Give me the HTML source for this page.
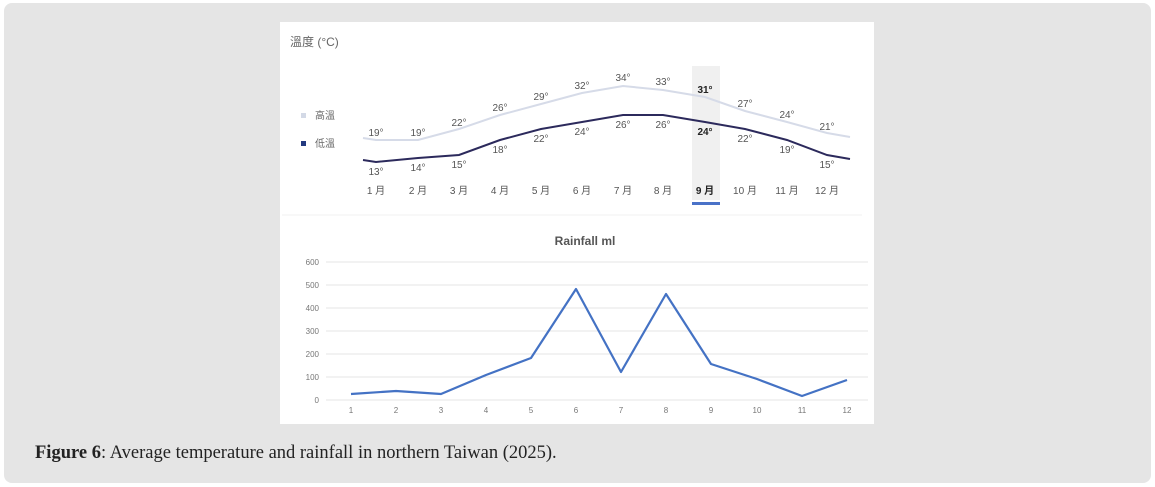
<!DOCTYPE html>
<html><head><meta charset="utf-8"><style>
html,body{margin:0;padding:0;background:#fff;width:1155px;height:487px;overflow:hidden}
.panel{position:absolute;left:4px;top:3px;width:1147px;height:480px;background:#e5e5e5;border-radius:8px}
.img{position:absolute;left:280px;top:22px;width:594px;height:402px;background:#fff}
.cap{position:absolute;left:35px;top:443px;font:18.5px "Liberation Serif",serif;color:#222}
</style></head><body>
<div class="panel"></div>
<div class="img"></div>
<svg width="1155" height="487" style="position:absolute;left:0;top:0" font-family="Liberation Sans, Noto Sans CJK TC, sans-serif">
<text x="290" y="46" font-size="12" fill="#666">溫度 (°C)</text>
<rect x="692" y="66" width="28" height="134" fill="#f0f0f0"/>
<rect x="692" y="202" width="28" height="3" fill="#4a72c8"/>
<line x1="282" y1="215" x2="862" y2="215" stroke="#f0f0f0"/>
<rect x="301" y="113" width="5" height="5" fill="#d3d9e6"/>
<text x="315" y="119" font-size="10" fill="#666">高溫</text>
<rect x="301" y="141" width="5" height="5" fill="#233a80"/>
<text x="315" y="147" font-size="10" fill="#666">低溫</text>
<polyline fill="none" stroke="#d6dbe8" stroke-width="2" points="363,138 376,140 418,140 459,129 500,115 541,104 582,93 623,86 663,90 705,97 745,111 787,122 827,133 850,137"/>
<polyline fill="none" stroke="#2c2a5c" stroke-width="2" points="363,160 376,162 418,158 459,155 500,140 541,129 582,122 623,115 663,115 705,122 745,129 787,140 827,155 850,159"/>
<g font-size="10" fill="#555" text-anchor="middle">
<text x="376" y="136">19°</text><text x="418" y="136">19°</text><text x="459" y="126">22°</text><text x="500" y="111">26°</text><text x="541" y="100">29°</text><text x="582" y="89">32°</text><text x="623" y="81">34°</text><text x="663" y="85">33°</text><text x="705" y="93" font-weight="bold" fill="#222">31°</text><text x="745" y="107">27°</text><text x="787" y="118">24°</text><text x="827" y="130">21°</text>
<text x="376" y="175">13°</text><text x="418" y="171">14°</text><text x="459" y="168">15°</text><text x="500" y="153">18°</text><text x="541" y="142">22°</text><text x="582" y="135">24°</text><text x="623" y="128">26°</text><text x="663" y="128">26°</text><text x="705" y="135" font-weight="bold" fill="#222">24°</text><text x="745" y="142">22°</text><text x="787" y="153">19°</text><text x="827" y="168">15°</text>
<text x="376" y="194">1 月</text><text x="418" y="194">2 月</text><text x="459" y="194">3 月</text><text x="500" y="194">4 月</text><text x="541" y="194">5 月</text><text x="582" y="194">6 月</text><text x="623" y="194">7 月</text><text x="663" y="194">8 月</text><text x="705" y="194" font-weight="bold" fill="#222">9 月</text><text x="745" y="194">10 月</text><text x="787" y="194">11 月</text><text x="827" y="194">12 月</text>
</g>
<text x="585" y="245" font-size="12" font-weight="bold" fill="#555" text-anchor="middle">Rainfall ml</text>
<g stroke="#e4e4e4" stroke-width="1">
<line x1="326" y1="262" x2="868" y2="262"/><line x1="326" y1="285" x2="868" y2="285"/><line x1="326" y1="308" x2="868" y2="308"/><line x1="326" y1="331" x2="868" y2="331"/><line x1="326" y1="354" x2="868" y2="354"/><line x1="326" y1="377" x2="868" y2="377"/><line x1="326" y1="400" x2="868" y2="400"/>
</g>
<g font-size="8" fill="#777" text-anchor="end">
<text x="319" y="265">600</text><text x="319" y="288">500</text><text x="319" y="311">400</text><text x="319" y="334">300</text><text x="319" y="357">200</text><text x="319" y="380">100</text><text x="319" y="403">0</text>
</g>
<g font-size="8" fill="#777" text-anchor="middle">
<text x="351" y="413">1</text><text x="396" y="413">2</text><text x="441" y="413">3</text><text x="486" y="413">4</text><text x="531" y="413">5</text><text x="576" y="413">6</text><text x="621" y="413">7</text><text x="666" y="413">8</text><text x="711" y="413">9</text><text x="757" y="413">10</text><text x="802" y="413">11</text><text x="847" y="413">12</text>
</g>
<polyline fill="none" stroke="#4472c4" stroke-width="2.2" stroke-linejoin="round" points="351,394 396,391 441,394 486,375 531,358 576,289 621,372 666,294 711,364 757,379 802,396 847,380"/>
</svg>
<div class="cap"><b>Figure 6</b>: Average temperature and rainfall in northern Taiwan (2025).</div>
</body></html>
